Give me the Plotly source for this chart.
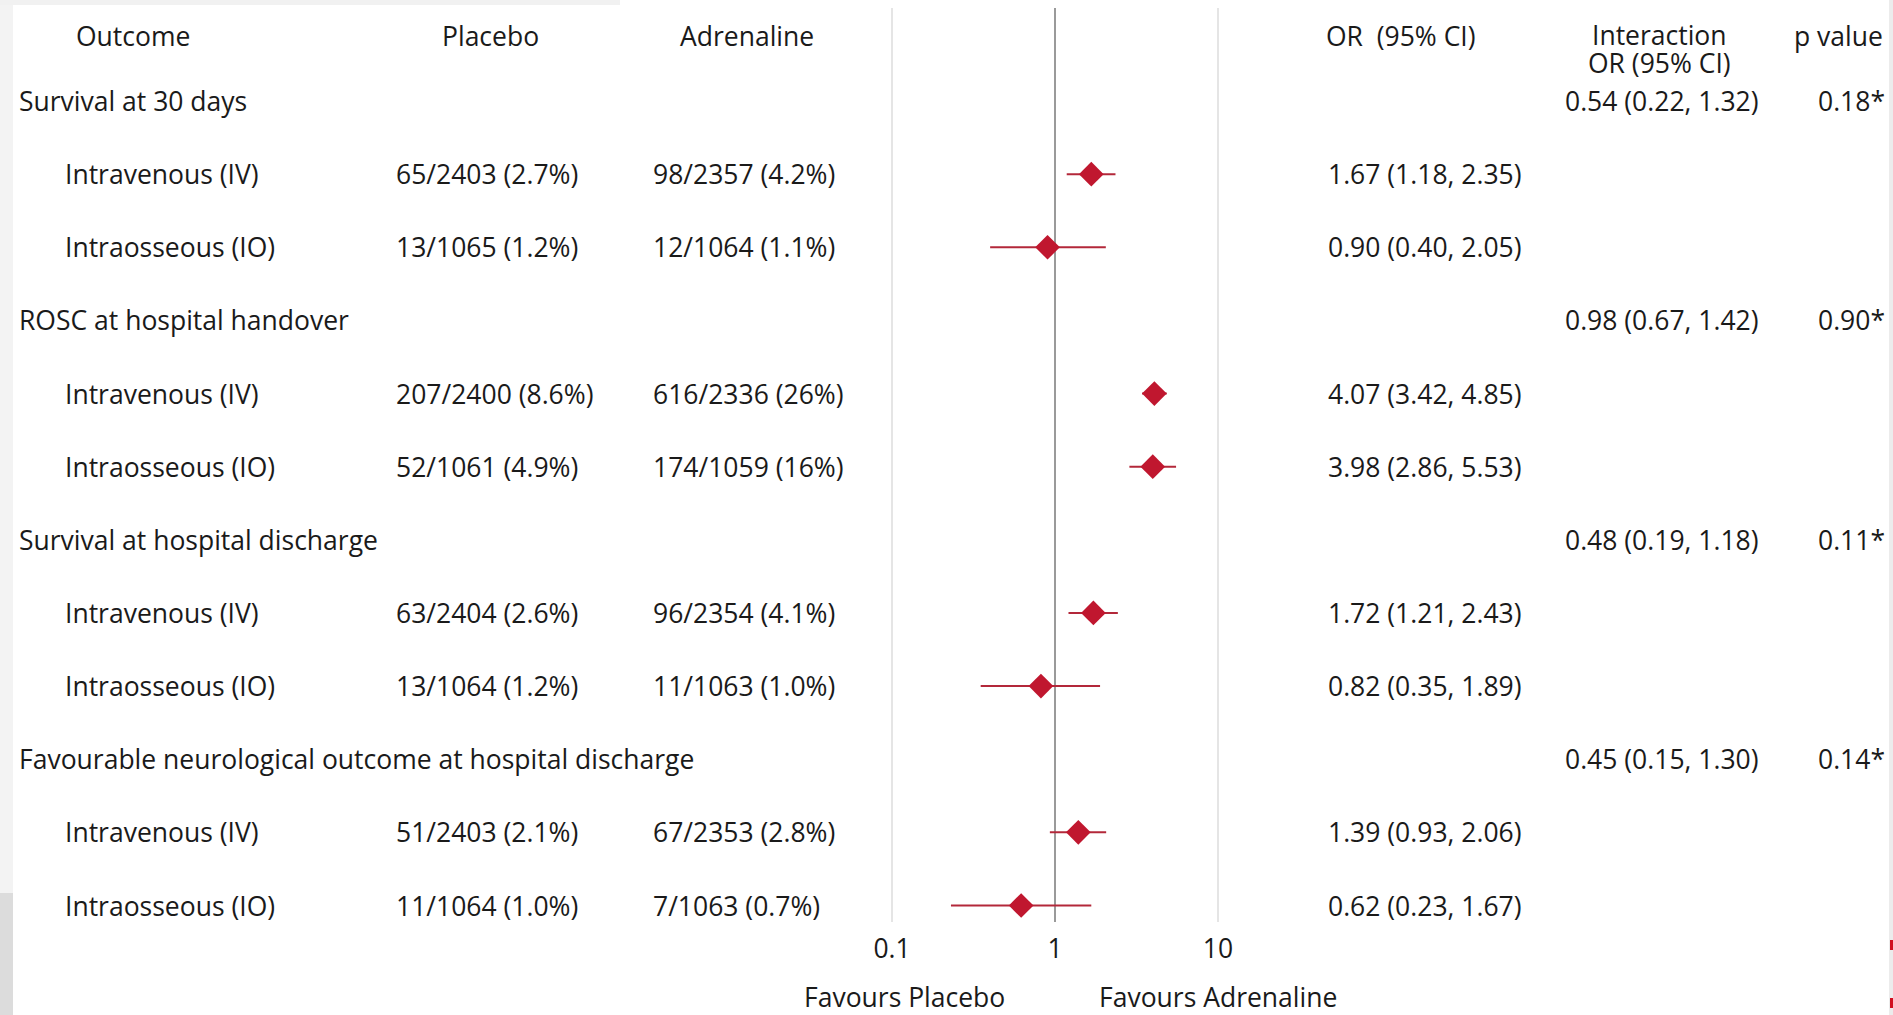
import plotly.graph_objects as go

# ---- data -------------------------------------------------------------
outcomes = [
    "Survival at 30 days",
    "ROSC at hospital handover",
    "Survival at hospital discharge",
    "Favourable neurological outcome at hospital discharge",
]
routes = ["Intravenous (IV)", "Intraosseous (IO)"]

placebo_events = [65, 13, 207, 52, 63, 13, 51, 11]
placebo_total = [2403, 1065, 2400, 1061, 2404, 1064, 2403, 1064]
placebo_pct = ["2.7%", "1.2%", "8.6%", "4.9%", "2.6%", "1.2%", "2.1%", "1.0%"]

adrenaline_events = [98, 12, 616, 174, 96, 11, 67, 7]
adrenaline_total = [2357, 1064, 2336, 1059, 2354, 1063, 2353, 1063]
adrenaline_pct = ["4.2%", "1.1%", "26%", "16%", "4.1%", "1.0%", "2.8%", "0.7%"]

odds_ratio = [1.67, 0.90, 4.07, 3.98, 1.72, 0.82, 1.39, 0.62]
ci_low = [1.18, 0.40, 3.42, 2.86, 1.21, 0.35, 0.93, 0.23]
ci_high = [2.35, 2.05, 4.85, 5.53, 2.43, 1.89, 2.06, 1.67]

interaction_or = [0.54, 0.98, 0.48, 0.45]
interaction_low = [0.22, 0.67, 0.19, 0.15]
interaction_high = [1.32, 1.42, 1.18, 1.30]
interaction_p = [0.18, 0.90, 0.11, 0.14]

axis_ticks = [0.1, 1, 10]
axis_ticktext = ["0.1", "1", "10"]

# ---- layout geometry (pixels) ------------------------------------------
W, H = 1893, 1015
FONT = "Open Sans"
FSIZE = 26.5
TXT = "#1a1a1a"
RED = "#c0172f"
LINE_RED = "#b3283a"

plot_top, plot_bottom = 8, 922          # vertical extent of gridlines
row1_px, row12_px = 101, 905.5          # centres of first / last table rows
px_per_row = (row12_px - row1_px) / 11
y_top = 1 - (row1_px - plot_top) / px_per_row
y_bottom = 1 + (plot_bottom - row1_px) / px_per_row


def px_x(px):
    return px / W


def px_y(px):
    return 1 - px / H


def row_at(px):
    return 1 - (row1_px - px) / px_per_row


# row index for every outcome heading and every route row
group_rows = []
sub_rows = []
r = 1
for _ in outcomes:
    group_rows.append(r)
    sub_rows.extend([r + 1, r + 2])
    r += 3

fig = go.Figure()

# confidence-interval whiskers
wx, wy = [], []
for lo, hi, row in zip(ci_low, ci_high, sub_rows):
    wx += [lo, hi, None]
    wy += [row, row, None]
fig.add_trace(go.Scatter(
    x=wx, y=wy, mode="lines",
    line=dict(color=LINE_RED, width=2),
    hoverinfo="skip", showlegend=False,
))

# point estimates
fig.add_trace(go.Scatter(
    x=odds_ratio, y=sub_rows, mode="markers",
    marker=dict(symbol="diamond", size=19, color=RED, line=dict(width=0)),
    showlegend=False,
))

annotations = []


def add_text(text, x_px, y, anchor="left", yref="y", size=FSIZE):
    annotations.append(dict(
        text=text, x=px_x(x_px), xref="paper", y=y, yref=yref,
        xanchor=anchor, yanchor="middle", showarrow=False,
        font=dict(family=FONT, size=size, color=TXT),
    ))


# column headers
head_y = row_at(36)
add_text("Outcome", 133, head_y, "center")
add_text("Placebo", 490, head_y, "center")
add_text("Adrenaline", 747, head_y, "center")
add_text("OR\u00a0 (95% CI)", 1324, head_y, "left")
add_text("Interaction", 1659, row_at(35), "center")
add_text("OR (95% CI)", 1659, row_at(63), "center")
add_text("p value", 1838, head_y, "center")

# outcome headings with interaction results
for i, row in enumerate(group_rows):
    add_text(outcomes[i], 17, row, "left")
    add_text(f"{interaction_or[i]:.2f} ({interaction_low[i]:.2f}, {interaction_high[i]:.2f})",
             1563, row, "left")
    add_text(f"{interaction_p[i]:.2f}*", 1887, row, "right")

# route rows
for k, row in enumerate(sub_rows):
    add_text(routes[k % 2], 63, row, "left")
    add_text(f"{placebo_events[k]}/{placebo_total[k]} ({placebo_pct[k]})", 394, row, "left")
    add_text(f"{adrenaline_events[k]}/{adrenaline_total[k]} ({adrenaline_pct[k]})", 651, row, "left")
    add_text(f"{odds_ratio[k]:.2f} ({ci_low[k]:.2f}, {ci_high[k]:.2f})", 1326, row, "left")

# direction labels under the axis
add_text("Favours Placebo", 904, px_y(997), "center", yref="paper")
add_text("Favours Adrenaline", 1218, px_y(997), "center", yref="paper")

shapes = [
    # slide border strips
    dict(type="rect", xref="paper", yref="paper", x0=0, x1=px_x(13),
         y0=px_y(893), y1=1, fillcolor="#f3f3f3", line=dict(width=0), layer="below"),
    dict(type="rect", xref="paper", yref="paper", x0=0, x1=px_x(13),
         y0=0, y1=px_y(893), fillcolor="#dcdcdc", line=dict(width=0), layer="below"),
    dict(type="rect", xref="paper", yref="paper", x0=0, x1=px_x(620),
         y0=px_y(5), y1=1, fillcolor="#f1f1f1", line=dict(width=0), layer="below"),
    dict(type="rect", xref="paper", yref="paper", x0=px_x(1889), x1=1,
         y0=0, y1=1, fillcolor="#ececec", line=dict(width=0), layer="below"),
    dict(type="rect", xref="paper", yref="paper", x0=px_x(1890), x1=1,
         y0=px_y(950), y1=px_y(940), fillcolor="#d01020", line=dict(width=0)),
    dict(type="rect", xref="paper", yref="paper", x0=px_x(1890), x1=1,
         y0=px_y(1008), y1=px_y(998), fillcolor="#d01020", line=dict(width=0)),
]

# vertical reference lines at the tick positions; the line of no effect is darker
for t in axis_ticks:
    shapes.append(dict(
        type="line", xref="x", yref="paper", x0=t, x1=t,
        y0=px_y(plot_bottom), y1=px_y(plot_top),
        line=dict(color="#9a9a9a" if t == 1 else "#dcdcdc", width=2 if t == 1 else 1.5),
        layer="below",
    ))

fig.update_layout(
    width=W, height=H,
    margin=dict(l=0, r=0, t=0, b=0, pad=0, autoexpand=False),
    paper_bgcolor="white", plot_bgcolor="white",
    annotations=annotations,
    shapes=shapes,
    xaxis=dict(
        type="log", range=[-1.05, 1.05],
        domain=[px_x(892 - 163 * 0.05), px_x(1218 + 163 * 0.05)],
        tickvals=axis_ticks, ticktext=axis_ticktext,
        showgrid=False, showline=False, zeroline=False, ticks="",
        tickfont=dict(family=FONT, size=FSIZE, color=TXT),
        ticklabelstandoff=8, automargin=False,
    ),
    yaxis=dict(
        range=[y_bottom, y_top],
        domain=[px_y(plot_bottom), px_y(plot_top)],
        visible=False, showgrid=False, zeroline=False, automargin=False,
    ),
)

fig.write_html(
    "out.html",
    post_script="document.body.style.margin='0';document.body.style.overflow='hidden';",
)
